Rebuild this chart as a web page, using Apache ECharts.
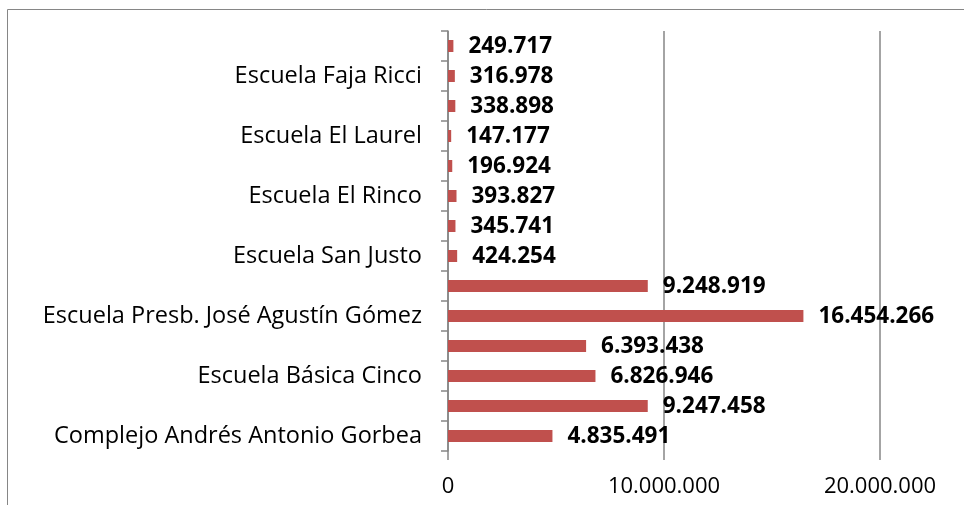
<!DOCTYPE html>
<html>
<head>
<meta charset="utf-8">
<script src="https://cdn.jsdelivr.net/npm/echarts@6/dist/echarts.min.js"></script>
<style>
html,body{margin:0;padding:0;background:#fff;}
#chart{width:964px;height:505px;}
</style>
</head>
<body>
<div id="chart"></div>
<script>
// Categories listed top to bottom (only every other label is shown in the reference)
const categories = [
  "Categoría sin etiqueta 1",
  "Escuela Faja Ricci",
  "Categoría sin etiqueta 2",
  "Escuela El Laurel",
  "Categoría sin etiqueta 3",
  "Escuela El Rinco",
  "Categoría sin etiqueta 4",
  "Escuela San Justo",
  "Categoría sin etiqueta 5",
  "Escuela Presb. José Agustín Gómez",
  "Categoría sin etiqueta 6",
  "Escuela Básica Cinco",
  "Categoría sin etiqueta 7",
  "Complejo Andrés Antonio Gorbea"
];
const values = [
  249717, 316978, 338898, 147177, 196924, 393827, 345741,
  424254, 9248919, 16454266, 6393438, 6826946, 9247458, 4835491
];
const xTicks = [0, 10000000, 20000000];

function fmt(v) {
  return String(Math.round(v)).replace(/\B(?=(\d{3})+(?!\d))/g, ".");
}

const FONT = "Open Sans";
const chart = echarts.init(document.getElementById('chart'), null, {renderer: 'canvas'});
chart.setOption({
  animation: false,
  backgroundColor: '#ffffff',
  graphic: [{
    type: 'rect',
    shape: {x: 7.5, y: 9.5, width: 1000, height: 600},
    style: {fill: 'none', stroke: '#868686', lineWidth: 1},
    silent: true,
    z: -10
  }],
  grid: {left: 448, right: 84, top: 31, bottom: 54, containLabel: false},
  xAxis: {
    type: 'value',
    min: xTicks[0],
    max: xTicks[xTicks.length - 1],
    interval: xTicks[1] - xTicks[0],
    axisLine: {show: false},
    axisTick: {show: true, length: 9, lineStyle: {color: '#868686', width: 1.5}},
    splitLine: {show: true, lineStyle: {color: '#868686', width: 1.5}},
    axisLabel: {
      margin: 25,
      fontFamily: FONT,
      fontSize: 22,
      color: '#000',
      formatter: fmt
    }
  },
  yAxis: {
    type: 'category',
    inverse: true,
    data: categories,
    boundaryGap: true,
    axisLine: {show: true, lineStyle: {color: '#868686', width: 1.5}},
    axisTick: {show: true, interval: 0, length: 7, lineStyle: {color: '#868686', width: 1.5}},
    axisLabel: {
      interval: function (idx) { return idx % 2 === 1; },
      margin: 26,
      fontFamily: FONT,
      fontSize: 23.5,
      color: '#000'
    }
  },
  series: [{
    type: 'bar',
    data: values,
    barWidth: 12,
    itemStyle: {color: '#C0504D'},
    label: {
      show: true,
      position: 'right',
      distance: 15,
      offset: [0, 1],
      fontFamily: FONT,
      fontWeight: 'bold',
      fontSize: 22.5,
      color: '#000',
      formatter: function (p) { return fmt(p.value); }
    }
  }]
});
</script>
</body>
</html>
